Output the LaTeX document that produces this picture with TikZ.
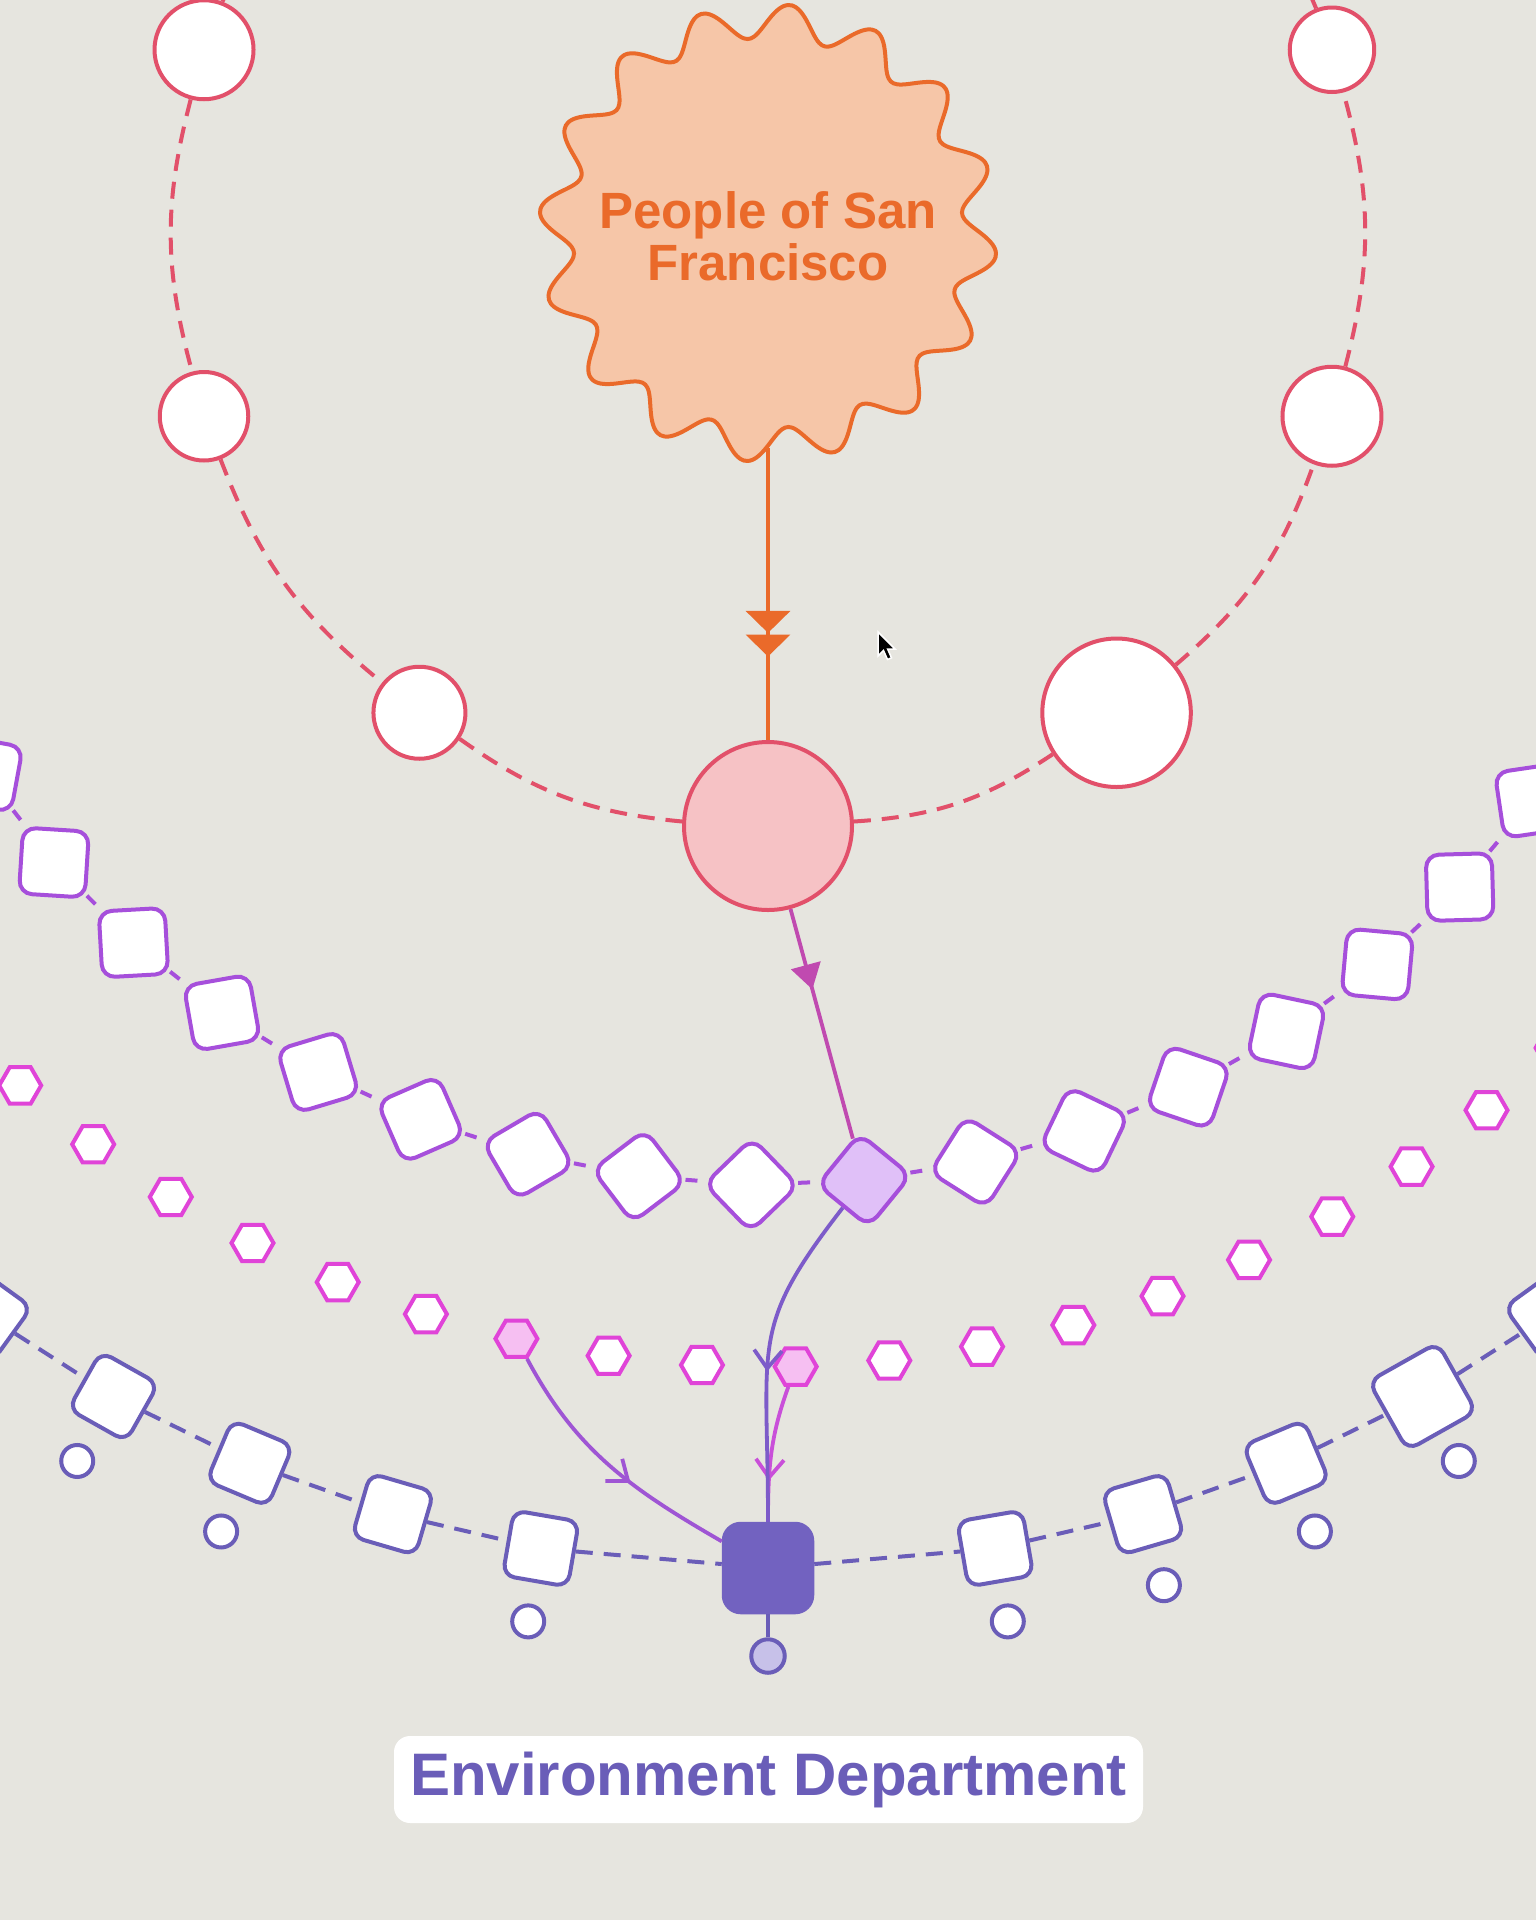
\documentclass[tikz,border=0pt]{standalone}
\usepackage{fontspec}
\setmainfont{Liberation Sans}
\usetikzlibrary{calc,shapes.geometric,arrows.meta,decorations.markings}

\definecolor{paper}{HTML}{E6E5DF}
\definecolor{rosered}{HTML}{E2506A}
\definecolor{rosefill}{HTML}{F6C2C5}
\definecolor{tangerine}{HTML}{EA6A2A}
\definecolor{peach}{HTML}{F6C6A8}
\definecolor{orchid}{HTML}{A64FDB}
\definecolor{lilac}{HTML}{E0C0F8}
\definecolor{fuchsia}{HTML}{E044D8}
\definecolor{blush}{HTML}{F6BFF2}
\definecolor{slate}{HTML}{6A5DB8}
\definecolor{indigofill}{HTML}{7262C0}
\definecolor{haze}{HTML}{C7C1E9}
\definecolor{plumline}{HTML}{C04AB0}
\definecolor{violetline}{HTML}{7D5BC9}
\definecolor{magline}{HTML}{C94FD9}
\definecolor{mixline}{HTML}{9F55D4}

\tikzset{
  wedge/.tip={Triangle[width=44pt,length=22pt]},
  spike/.tip={Triangle[width=30pt,length=25pt]},
  barb/.tip={Straight Barb[width=28pt,length=18pt]},
  burst/.style={draw=tangerine, fill=peach, line width=4pt},
  burstlabel/.style={circle, minimum size=424pt, inner sep=0pt, align=center,
    text=tangerine, font=\fontsize{51}{52}\selectfont\bfseries},
  ring/.style={circle, draw=rosered, fill=white, line width=4pt, inner sep=0pt},
  ringlink/.style={draw=rosered, line width=4pt, dash pattern=on 17pt off 11pt},
  tile/.style={rectangle, draw=orchid, fill=white, line width=4pt,
    rounded corners=13pt, minimum size=66pt, inner sep=0pt},
  tilelink/.style={draw=orchid, line width=4pt, dash pattern=on 12pt off 8pt},
  hexa/.style={regular polygon, regular polygon sides=6, draw=fuchsia, fill=white,
    line width=4pt, minimum size=42pt, inner sep=0pt},
  block/.style={rectangle, draw=slate, fill=white, line width=4pt,
    rounded corners=12pt, minimum size=66pt, inner sep=0pt},
  blocklink/.style={draw=slate, line width=4pt, dash pattern=on 17pt off 11pt},
  knob/.style={circle, draw=slate, fill=white, line width=4pt, minimum size=32pt, inner sep=0pt},
  flow/.style={line width=3.8pt},
  tipat/.style 2 args={postaction={decorate},
    decoration={markings, mark=at position #1 with {\arrow{#2}}}},
}

\begin{document}
\begin{tikzpicture}[x=1pt, y=1pt]
  \useasboundingbox (0,0) rectangle (1536,-1920);
  \fill[paper] (0,0) rectangle (1536,-1920);
  \clip (0,0) rectangle (1536,-1920);
  \coordinate (ctr) at (768,-233);

  % wavy people badge
  \draw[burst, shift={(ctr)}] plot[domain=0:359, samples=360, smooth cycle]
    ({\x}:{212+17*cos(16*(\x-84.5))});
  \node[burstlabel] (ppl) at ($(ctr)+(0,-3)$) {People of San\\Francisco};

  % red ring
  \node[ring, minimum size=99pt]   (tl)   at ($(ctr)+(162:593)$) {};
  \node[ring, minimum size=88.5pt] (lmid) at ($(ctr)+(198:593)$) {};
  \node[ring, minimum size=92pt]   (llow) at ($(ctr)+(234:593)$) {};
  \node[ring, minimum size=168pt, fill=rosefill] (hub) at ($(ctr)+(270:593)$) {};
  \node[ring, minimum size=148.5pt] (rlow) at ($(ctr)+(306:593)$) {};
  \node[ring, minimum size=99pt]   (rmid) at ($(ctr)+(342:593)$) {};
  \node[ring, minimum size=84.5pt] (tr)   at ($(ctr)+(18:593)$) {};
  \coordinate (ringin)  at ($(ctr)+(126:593)$);
  \coordinate (ringout) at ($(ctr)+(54:593)$);

  % purple tiles
  \foreach \i in {1,...,9,11,12,...,17} {
    \pgfmathsetmacro\ang{269+6.8*(\i-9)}
    \node[tile, rotate=\ang+45] (p\i) at ($(ctr)+(\ang:952)$) {};
  }
  \node[tile, fill=lilac, rotate=320.8] (p10) at ($(ctr)+(275.8:952)$) {};

  % magenta hexagons
  \foreach \i in {1,...,6,8,9,11,12,...,19}
    \node[hexa] (h\i) at ($(ctr)+({271.4+4.74*(\i-10)}:1134)$) {};
  \node[hexa, fill=blush] (h7)  at ($(ctr)+(257.18:1134)$) {};
  \node[hexa, fill=blush] (h10) at ($(ctr)+(271.4:1134)$) {};

  % blue blocks
  \node[block, fill=indigofill, draw=indigofill, minimum size=88.5pt, rounded corners=17pt]
    (base) at ($(ctr)+(270:1335)$) {};
  \foreach \j in {0,...,4} {
    \pgfmathsetmacro\la{260.2-6.52*\j}
    \pgfmathsetmacro\ra{279.8+6.52*\j}
    \pgfmathsetmacro\rs{\j==3 ? 79 : 66}
    \node[block, rotate=\la] (bl\j) at ($(ctr)+(\la:1335)$) {};
    \node[block, rotate=\ra, minimum size=\rs pt] (br\j) at ($(ctr)+(\ra:1335)$) {};
  }
  \foreach \n/\a in {dl0/260.2, dl2/247.16, dl3/240.64, dr0/279.8, dr1/286.32, dr2/292.84, dr3/299.36}
    \node[knob] (\n) at ($(ctr)+(\a:1409)$) {};
  \node[knob, fill=haze, minimum size=33.5pt] (basedot) at ($(ctr)+(270:1423)$) {};

  % links
  \foreach \a/\b in {ringin/tl, tl/lmid, lmid/llow, llow/hub, hub/rlow, rlow/rmid, rmid/tr, tr/ringout}
    \draw[ringlink] (\a) to[bend right=15] (\b);
  \foreach \i [evaluate=\i as \j using int(\i+1)] in {1,...,16}
    \draw[tilelink] (p\i) -- (p\j);
  \foreach \a/\b in {bl4/bl3, bl3/bl2, bl2/bl1, bl1/bl0, bl0/base, base/br0, br0/br1, br1/br2, br2/br3, br3/br4}
    \draw[blocklink] (\a) -- (\b);
  \draw[flow, color=slate] (base) -- (basedot);

  % flows
  \draw[flow, color=tangerine, postaction={decorate}, decoration={markings,
      mark=at position 0.633 with {\arrow{wedge}},
      mark=at position 0.714 with {\arrow{wedge}}}] (ppl) -- (hub);
  \draw[flow, color=plumline, tipat={0.35}{spike}] (hub) -- (p10);
  \draw[flow, color=mixline, tipat={0.6}{barb}] (h7) to[out=-62, in=150] (base);
  \draw[flow, color=magline, tipat={0.7}{barb}] (h10) to[out=-110, in=90] (base);
  \draw[flow, color=violetline, tipat={0.55}{barb}]
    (p10) to[out=-120, in=90, out looseness=1.2, in looseness=1.4] (base);

  % label
  \node[fill=white, rounded corners=16pt, minimum width=749pt, minimum height=87pt,
    text=slate, font=\fontsize{60}{62}\selectfont\bfseries] (dept) at (768.5,-1779.5)
    {Environment Department};

  % pointer
  \filldraw[fill=black, draw=white, line width=1.5pt, shift={(878,-632)}]
    (0,0) -- (0,-24) -- (5.5,-18.5) -- (9.5,-27.5) -- (13.5,-25.8) -- (9.6,-17) -- (17,-17) -- cycle;
\end{tikzpicture}
\end{document}
